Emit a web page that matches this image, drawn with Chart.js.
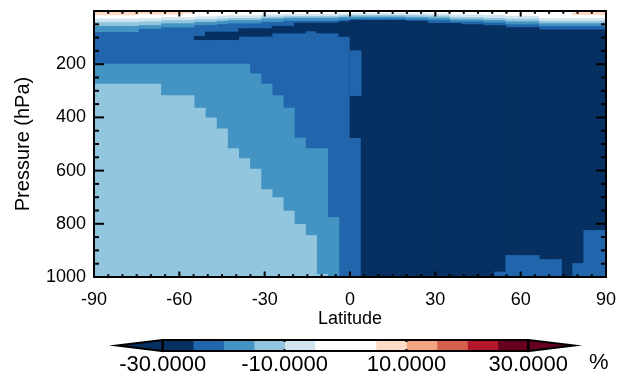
<!DOCTYPE html>
<html>
<head>
<meta charset="utf-8">
<script src="https://cdn.jsdelivr.net/npm/chart.js@4.4.1/dist/chart.umd.min.js"></script>
<style>
  body { margin: 0; background: #fff; width: 631px; height: 379px; position: relative; overflow: hidden; }
  #main { position: absolute; left: 0; top: 0; }
  #bar { position: absolute; left: 0; top: 330px; }
</style>
</head>
<body>
<canvas id="main" width="631" height="330"></canvas>
<canvas id="bar" width="631" height="49"></canvas>
<script>
// latitude cell centres (46 equal cells from -90 to 90)
var lat = [-88.04, -84.13, -80.22, -76.30, -72.39, -68.48, -64.57, -60.65, -56.74, -52.83,
           -48.91, -45.00, -41.09, -37.17, -33.26, -29.35, -25.43, -21.52, -17.61, -13.70,
           -9.78, -5.87, -1.96, 1.96, 5.87, 9.78, 13.70, 17.61, 21.52, 25.43,
           29.35, 33.26, 37.17, 41.09, 45.00, 48.91, 52.83, 56.74, 60.65, 64.57,
           68.48, 72.39, 76.30, 80.22, 84.13, 88.04];
var surface = 1000;
var pressureTicks = [200, 400, 600, 800, 1000];

// contour boundaries in hPa, one value per latitude cell
// upper bands (from the top of the atmosphere down)
var topPink  = [15,15,15,15,10,12,12,12,8,null,null,null,null,null,null,null,null,null,null,null,null,null,null,null,null,null,null,null,null,null,null,null,null,null,null,null,null,null,null,null,null,null,null,14,14,14];
var topWhite = [27,27,27,27,26,26,22,22,22,19,19,17,15,15,15,12,12,10,10,10,10,10,8,7,7,7,7,7,8,8,9,9,12,12,12,14,14,17,17,17,26,26,26,26,26,26];
var topPale  = [40,40,40,40,38,38,33,33,33,30,30,27,25,25,25,20,20,18,18,18,18,18,15,14,14,14,14,14,15,15,16,16,22,22,22,25,25,28,28,28,36,36,36,36,36,36];
var topLight = [55,55,55,55,52,52,45,45,45,40,40,36,33,33,33,27,27,24,24,24,24,24,21,20,20,20,20,20,22,22,24,24,30,30,30,33,33,38,38,38,45,45,45,45,45,45];
var topMid   = [78,78,78,78,66,66,60,60,60,52,52,48,45,45,45,40,40,35,35,35,35,35,31,28,27,27,27,27,30,30,33,33,38,38,38,42,42,49,49,49,55,55,55,55,55,55];

// below -30 % region
var navyTop    = [null,null,null,null,null,null,null,null,null,95,79,79,79,66,66,66,57,57,45,45,45,45,40,34,35,35,35,35,38,38,46,46,46,51,51,55,55,62,62,62,71,71,71,71,71,71];
var navyBottom = [null,null,null,null,null,null,null,null,null,108,108,108,108,95,95,95,83,83,83,75,83,83,96,476,1000,1000,1000,1000,1000,1000,1000,1000,1000,1000,1000,1000,1000,1000,1000,1000,1000,1000,1000,1000,1000,1000];
var bluePatchTop    = [null,null,null,null,null,null,null,null,null,null,null,null,null,null,null,null,null,null,null,null,null,null,null,149,null,null,null,null,null,null,null,null,null,null,null,null,981,919,919,919,934,934,null,949,825,825];
var bluePatchBottom = [null,null,null,null,null,null,null,null,null,null,null,null,null,null,null,null,null,null,null,null,null,null,null,318,null,null,null,null,null,null,null,null,null,null,null,null,1000,1000,1000,1000,1000,1000,null,1000,1000,1000];

// lower southern region
var lowMidTop   = [200,200,200,200,200,200,200,200,200,200,200,200,200,200,236,275,318,365,478,517,517,776,null,null,null,null,null,null,null,null,null,null,null,null,null,null,null,null,null,null,null,null,null,null,null,null];
var lowLightTop = [275,275,275,275,275,275,318,318,318,365,402,443,517,555,594,671,701,752,802,844,990,null,null,null,null,null,null,null,null,null,null,null,null,null,null,null,null,null,null,null,null,null,null,null,null,null];

// colour scale
var cbEdges  = [-30, -25, -20, -15, -10, -5, 0, 5, 10, 15, 20, 25, 30];
var cbColors = ['#053061', '#2166ac', '#4393c3', '#92c5de', '#d1e5f0', '#ffffff',
                '#ffffff', '#fddbc7', '#f4a582', '#d6604d', '#b2182b', '#67001f'];
var cbLow = '#053061', cbHigh = '#67001f';
var cbTicks = [-30, -10, 10, 30];
var cbUnit = '%';

var navy = cbColors[0], blue = cbColors[1], mid = cbColors[2], light = cbColors[3],
    pale = cbColors[4], white = cbColors[5], pink = cbColors[7];

Chart.defaults.font.family = '"Liberation Sans", Arial, sans-serif';
Chart.defaults.color = '#000';

function span(tops, bottoms) {
  return tops.map(function (t, i) {
    if (t == null) return null;
    return [t, Array.isArray(bottoms) ? bottoms[i] : bottoms];
  });
}
function fromTop(bottoms) {
  return bottoms.map(function (b) { return b == null ? null : [0, b]; });
}

// painted in this order, later layers cover earlier ones
var layers = [
  { color: blue,  data: lat.map(function () { return [0, surface]; }) },
  { color: navy,  data: span(navyTop, navyBottom) },
  { color: blue,  data: span(bluePatchTop, bluePatchBottom) },
  { color: mid,   data: span(lowMidTop, surface) },
  { color: light, data: span(lowLightTop, surface) },
  { color: mid,   data: fromTop(topMid) },
  { color: light, data: fromTop(topLight) },
  { color: pale,  data: fromTop(topPale) },
  { color: white, data: fromTop(topWhite) },
  { color: pink,  data: fromTop(topPink) }
];

var frame = {
  id: 'frame',
  afterDatasetsDraw: function (chart) {
    var c = chart.ctx, a = chart.chartArea, sx = chart.scales.x, sy = chart.scales.y;
    c.save();
    c.fillStyle = '#000';
    for (var v = -90; v <= 90; v += 5) {
      var x = sx.getPixelForValue(v);
      var len = v % 30 === 0 ? 5.5 : 2.8;
      c.fillRect(x - 1, a.bottom - len, 2, len);
      c.fillRect(x - 1, a.top, 2, len);
    }
    for (var p = 0; p <= 1000; p += 50) {
      var y = sy.getPixelForValue(p);
      var l = p % 200 === 0 ? 10 : 5;
      c.fillRect(a.left, y - 1, l, 2);
      c.fillRect(a.right - l, y - 1, l, 2);
    }
    c.strokeStyle = '#000';
    c.lineWidth = 2;
    c.strokeRect(a.left, a.top, a.right - a.left, a.bottom - a.top);
    c.restore();
  }
};

var ctx = document.getElementById('main').getContext('2d');
var mainChart = new Chart(ctx, {
  type: 'bar',
  data: {
    labels: lat,
    datasets: layers.map(function (l, i) {
      return {
        data: l.data,
        backgroundColor: l.color,
        order: layers.length - i,
        grouped: false,
        barPercentage: 1,
        categoryPercentage: 1,
        borderWidth: 0,
        xAxisID: 'xc',
        yAxisID: 'y'
      };
    })
  },
  options: {
    responsive: false,
    animation: false,
    layout: { padding: { top: 11, right: 25, left: 0, bottom: 0 } },
    plugins: { legend: { display: false }, tooltip: { enabled: false } },
    scales: {
      xc: { type: 'category', display: false, position: 'bottom' },
      x: {
        type: 'linear', position: 'bottom', min: -90, max: 90, offset: false,
        ticks: { stepSize: 30, font: { size: 18 }, padding: 12 },
        grid: { display: false, drawTicks: false, offset: false },
        border: { display: false },
        title: { display: true, text: 'Latitude', font: { size: 18 }, padding: 0 },
        afterFit: function (s) { s.height = 53; }
      },
      y: {
        type: 'linear', position: 'left', reverse: true, min: 0, max: 1000,
        afterBuildTicks: function (s) { s.ticks = pressureTicks.map(function (v) { return { value: v }; }); },
        ticks: { font: { size: 18 }, padding: 8, callback: function (v) { return String(v); } },
        grid: { display: false, drawTicks: false },
        border: { display: false },
        title: { display: true, text: 'Pressure (hPa)', font: { size: 20 }, padding: 11 },
        afterFit: function (s) { s.width = 94; s.paddingTop = 0; s.paddingBottom = 0; }
      }
    }
  },
  plugins: [frame]
});

var arrows = {
  id: 'arrows',
  afterDatasetsDraw: function (chart) {
    var c = chart.ctx, a = chart.chartArea, sx = chart.scales.x;
    var x0 = sx.getPixelForValue(cbEdges[0]);
    var x1 = sx.getPixelForValue(cbEdges[cbEdges.length - 1]);
    var ym = (a.top + a.bottom) / 2;
    c.save();
    c.lineWidth = 2;
    c.strokeStyle = '#000';
    c.beginPath(); c.moveTo(x0, a.top); c.lineTo(a.left, ym); c.lineTo(x0, a.bottom); c.closePath();
    c.fillStyle = cbLow; c.fill(); c.stroke();
    c.beginPath(); c.moveTo(x1, a.top); c.lineTo(a.right, ym); c.lineTo(x1, a.bottom); c.closePath();
    c.fillStyle = cbHigh; c.fill(); c.stroke();
    c.strokeRect(x0, a.top, x1 - x0, a.bottom - a.top);
    c.fillStyle = '#000';
    cbTicks.forEach(function (v) {
      var x = sx.getPixelForValue(v);
      c.fillRect(x - 1, a.top, 2, 2);
      c.fillRect(x - 1, a.bottom - 2, 2, 2);
    });
    c.font = '22px "Liberation Sans", Arial, sans-serif';
    c.textAlign = 'left';
    c.textBaseline = 'middle';
    c.fillText(cbUnit, a.right + 15, a.bottom + 12);
    c.restore();
  }
};

var ctx = document.getElementById('bar').getContext('2d');
var barChart = new Chart(ctx, {
  type: 'bar',
  data: {
    labels: [''],
    datasets: cbColors.map(function (col, i) {
      return {
        data: [[cbEdges[i], cbEdges[i + 1]]],
        backgroundColor: col,
        grouped: false,
        barPercentage: 1,
        categoryPercentage: 1,
        borderWidth: 0
      };
    })
  },
  options: {
    indexAxis: 'y',
    responsive: false,
    animation: false,
    layout: { padding: { top: 10, left: 117, right: 57, bottom: 0 } },
    plugins: { legend: { display: false }, tooltip: { enabled: false } },
    scales: {
      x: {
        type: 'linear', min: -37.5, max: 37.5,
        afterBuildTicks: function (s) { s.ticks = cbTicks.map(function (v) { return { value: v }; }); },
        ticks: { font: { size: 22 }, padding: 1, callback: function (v) { return v.toFixed(4); } },
        grid: { display: false, drawTicks: false },
        border: { display: false },
        afterFit: function (s) { s.height = 28; }
      },
      y: { display: false }
    }
  },
  plugins: [arrows]
});
</script>
</body>
</html>
